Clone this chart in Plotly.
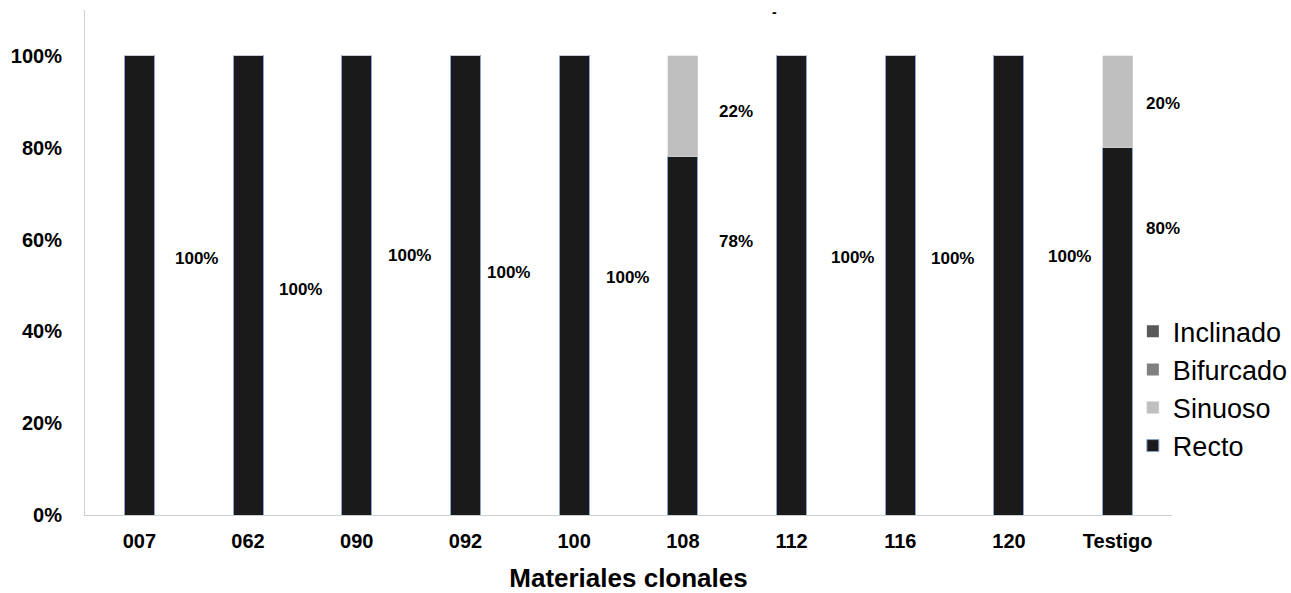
import plotly.graph_objects as go

# Tree stem form by clonal material (proportions)
materiales = ["007", "062", "090", "092", "100", "108", "112", "116", "120", "Testigo"]
recto = [1.00, 1.00, 1.00, 1.00, 1.00, 0.78, 1.00, 1.00, 1.00, 0.80]
sinuoso = [0.00, 0.00, 0.00, 0.00, 0.00, 0.22, 0.00, 0.00, 0.00, 0.20]
bifurcado = [0.0] * 10
inclinado = [0.0] * 10

# Label placement (height in data units, horizontal shift in px)
recto_label_y = [0.559, 0.491, 0.566, 0.528, 0.517, 0.596, 0.561, 0.559, 0.563, 0.624]
recto_label_dx = [57, 52, 53, 43, 53, 53, 61, 52, 61, 45]
sinuoso_label_y = [None, None, None, None, None, 0.880, None, None, None, 0.897]

FONT = "Liberation Sans, Arial, sans-serif"

fig = go.Figure()
fig.add_trace(go.Bar(x=materiales, y=recto, name="Recto",
                     marker=dict(color="#1a1a1a", line=dict(color="#8ea3cf", width=1))))
fig.add_trace(go.Bar(x=materiales, y=sinuoso, name="Sinuoso",
                     marker=dict(color="#bfbfbf", line=dict(color="#d9d9d9", width=0.5))))
fig.add_trace(go.Bar(x=materiales, y=bifurcado, name="Bifurcado",
                     marker=dict(color="#808080", line=dict(width=0))))
fig.add_trace(go.Bar(x=materiales, y=inclinado, name="Inclinado",
                     marker=dict(color="#595959", line=dict(width=0))))

# Category positions are given by index so numeric-looking names stay categorical
label_font = dict(family=FONT, size=17, color="#000", weight="bold")
annotations = []
for i, (v, ly, dx) in enumerate(zip(recto, recto_label_y, recto_label_dx)):
    annotations.append(dict(x=i, y=ly, xref="x", yref="y", text=f"{v:.0%}",
                            showarrow=False, xshift=dx, font=label_font))
for i, (v, ly, dx) in enumerate(zip(sinuoso, sinuoso_label_y, recto_label_dx)):
    if ly is not None:
        annotations.append(dict(x=i, y=ly, xref="x", yref="y", text=f"{v:.0%}",
                                showarrow=False, xshift=dx, font=label_font))
annotations.append(dict(x=0.634, y=1.0, xref="paper", yref="paper", text="-",
                        showarrow=False, yanchor="bottom", yshift=-12,
                        font=dict(family=FONT, size=14, color="#000", weight="bold")))

fig.update_layout(
    width=1291, height=593,
    barmode="stack", bargap=0.724,
    plot_bgcolor="white", paper_bgcolor="white",
    margin=dict(l=85, r=119, t=10, b=78, autoexpand=False),
    font=dict(family=FONT, color="#000"),
    showlegend=True,
    legend=dict(traceorder="reversed", x=0.9640, xanchor="left", y=0.25, yanchor="middle",
                font=dict(family=FONT, size=27, color="#000"),
                itemwidth=30, tracegroupgap=0, bgcolor="rgba(0,0,0,0)"),
    annotations=annotations,
    xaxis=dict(type="category", range=[-0.5, 9.5], showline=True, linecolor="#d0d0d0",
               linewidth=1, ticks="", tickangle=0, ticklabelstandoff=8,
               tickfont=dict(family=FONT, size=20, color="#000", weight="bold"),
               title=dict(text="Materiales clonales", standoff=20,
                          font=dict(family=FONT, size=26, color="#000", weight="bold"))),
    yaxis=dict(range=[0, 1.1], tickvals=[0, 0.2, 0.4, 0.6, 0.8, 1.0], tickformat=".0%",
               showgrid=False, zeroline=False, showline=True, linecolor="#d0d0d0",
               linewidth=1, ticks="", ticklabelstandoff=18,
               tickfont=dict(family=FONT, size=20, color="#000", weight="bold")),
)

fig.write_html("out.html")
